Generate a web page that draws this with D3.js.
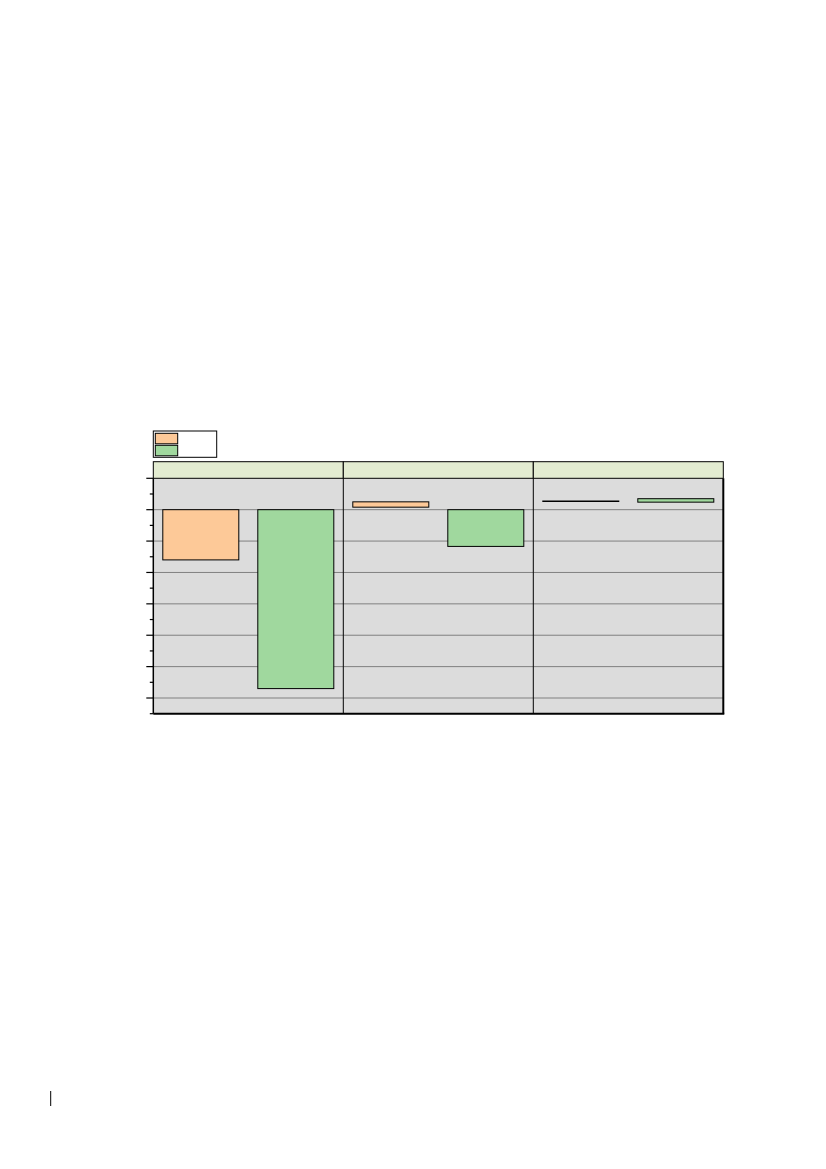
<!DOCTYPE html>
<html>
<head>
<meta charset="utf-8">
<script src="https://cdn.jsdelivr.net/npm/d3@7"></script>
<style>
  html, body { margin: 0; padding: 0; background: #fff; }
  svg { display: block; }
</style>
</head>
<body>
<div id="chart"></div>
<script>
// three facet panels, two series in each (labels are blank in the source)
const panels = ["p1", "p2", "p3"];
const series = ["a", "b"];
const seriesColors = ["#fdc998", "#a0d89e"];
// each bar is a floating range: [panel, series, top, bottom]
const barLow = [
    ["p1", "a", 0, -1.6],
    ["p1", "b", 0, -5.7],
    ["p2", "a", 0.25, 0.08],
    ["p2", "b", 0, -1.17],
    ["p3", "a", 0.27, 0.27],
    ["p3", "b", 0.35, 0.24]
];
const majorTicks = [1, 0, -1, -2, -3, -4, -5, -6];
const minorTicks = [0.5, -0.5, -1.5, -2.5, -3.5, -4.5, -5.5, -6.5];

const width = 826, height = 1169;
const svg = d3.select("#chart").append("svg")
    .attr("width", width)
    .attr("height", height);

const left = 153.3, right = 723.3;
const stripTop = 461.7, panelTop = 478.3, panelBottom = 713.7;

const y = d3.scaleLinear()
    .domain([1, -6.5])
    .range([panelTop, panelBottom]);

const fx = d3.scaleBand()
    .domain(panels)
    .range([left, right]);

const x = d3.scaleBand()
    .domain(series)
    .range([0, fx.bandwidth()])
    .paddingInner(0.2)
    .paddingOuter(0.1);

const color = d3.scaleOrdinal().domain(series).range(seriesColors);

// panels
const panel = svg.selectAll("g.panel")
    .data(panels)
    .join("g")
    .attr("class", "panel")
    .attr("transform", d => `translate(${fx(d)},0)`);

panel.append("rect")
    .attr("x", 0)
    .attr("y", panelTop)
    .attr("width", fx.bandwidth())
    .attr("height", panelBottom - panelTop)
    .attr("fill", "#dcdcdc");

// strips
panel.append("rect")
    .attr("x", 0)
    .attr("y", stripTop)
    .attr("width", fx.bandwidth())
    .attr("height", panelTop - stripTop)
    .attr("fill", "#e3ecd1")
    .attr("stroke", "#000")
    .attr("stroke-width", 1);

// gridlines
panel.selectAll("line.grid")
    .data(majorTicks.filter(d => d < 1))
    .join("line")
    .attr("class", "grid")
    .attr("x1", 0)
    .attr("x2", fx.bandwidth())
    .attr("y1", d => y(d))
    .attr("y2", d => y(d))
    .attr("stroke", "#808080")
    .attr("stroke-width", 1);

// bars
panel.selectAll("rect.bar")
    .data(p => barLow.filter(b => b[0] === p && b[2] !== b[3]))
    .join("rect")
    .attr("class", "bar")
    .attr("x", d => x(d[1]))
    .attr("width", x.bandwidth())
    .attr("y", d => y(d[2]))
    .attr("height", d => y(d[3]) - y(d[2]))
    .attr("fill", d => color(d[1]))
    .attr("stroke", "#000")
    .attr("stroke-width", 1);

// zero-height bars collapse into a flat black line
panel.selectAll("line.flat")
    .data(p => barLow.filter(b => b[0] === p && b[2] === b[3]))
    .join("line")
    .attr("class", "flat")
    .attr("x1", d => x(d[1]) - 0.5)
    .attr("x2", d => x(d[1]) + x.bandwidth() + 0.5)
    .attr("y1", d => y(d[2]))
    .attr("y2", d => y(d[2]))
    .attr("stroke", "#000")
    .attr("stroke-width", 1.6);

// panel dividers
panel.filter((d, i) => i > 0).append("line")
    .attr("x1", 0).attr("x2", 0)
    .attr("y1", panelTop).attr("y2", panelBottom)
    .attr("stroke", "#000");

// y axis with major/minor ticks
const axisG = svg.append("g");
axisG.append("line")
    .attr("x1", left).attr("x2", left)
    .attr("y1", panelTop).attr("y2", panelBottom)
    .attr("stroke", "#000").attr("stroke-width", 1.5);
axisG.selectAll("line.major")
    .data(majorTicks)
    .join("line")
    .attr("class", "major")
    .attr("x1", left - 7).attr("x2", left)
    .attr("y1", d => y(d)).attr("y2", d => y(d))
    .attr("stroke", "#000").attr("stroke-width", 1.2);
axisG.selectAll("line.minor")
    .data(minorTicks)
    .join("line")
    .attr("class", "minor")
    .attr("x1", left - 3.5).attr("x2", left)
    .attr("y1", d => y(d)).attr("y2", d => y(d))
    .attr("stroke", "#000").attr("stroke-width", 1.2);

// bottom and right borders (thick)
svg.append("line")
    .attr("x1", left).attr("x2", right + 1)
    .attr("y1", panelBottom).attr("y2", panelBottom)
    .attr("stroke", "#000").attr("stroke-width", 2);
svg.append("line")
    .attr("x1", right).attr("x2", right)
    .attr("y1", panelTop).attr("y2", panelBottom)
    .attr("stroke", "#000").attr("stroke-width", 2);

// legend
const legend = svg.append("g");
legend.append("rect")
    .attr("x", 153.3).attr("y", 431)
    .attr("width", 63.4).attr("height", 26.3)
    .attr("fill", "#fff")
    .attr("stroke", "#000");
legend.selectAll("rect.key")
    .data(series)
    .join("rect")
    .attr("class", "key")
    .attr("x", 155.3)
    .attr("y", (d, i) => 433.3 + i * 12)
    .attr("width", 22.4)
    .attr("height", 10.5)
    .attr("fill", d => color(d))
    .attr("stroke", "#000");

// page mark at lower left
svg.append("line")
    .attr("x1", 50.7).attr("x2", 50.7)
    .attr("y1", 1091).attr("y2", 1106)
    .attr("stroke", "#000").attr("stroke-width", 1);
</script>
</body>
</html>
